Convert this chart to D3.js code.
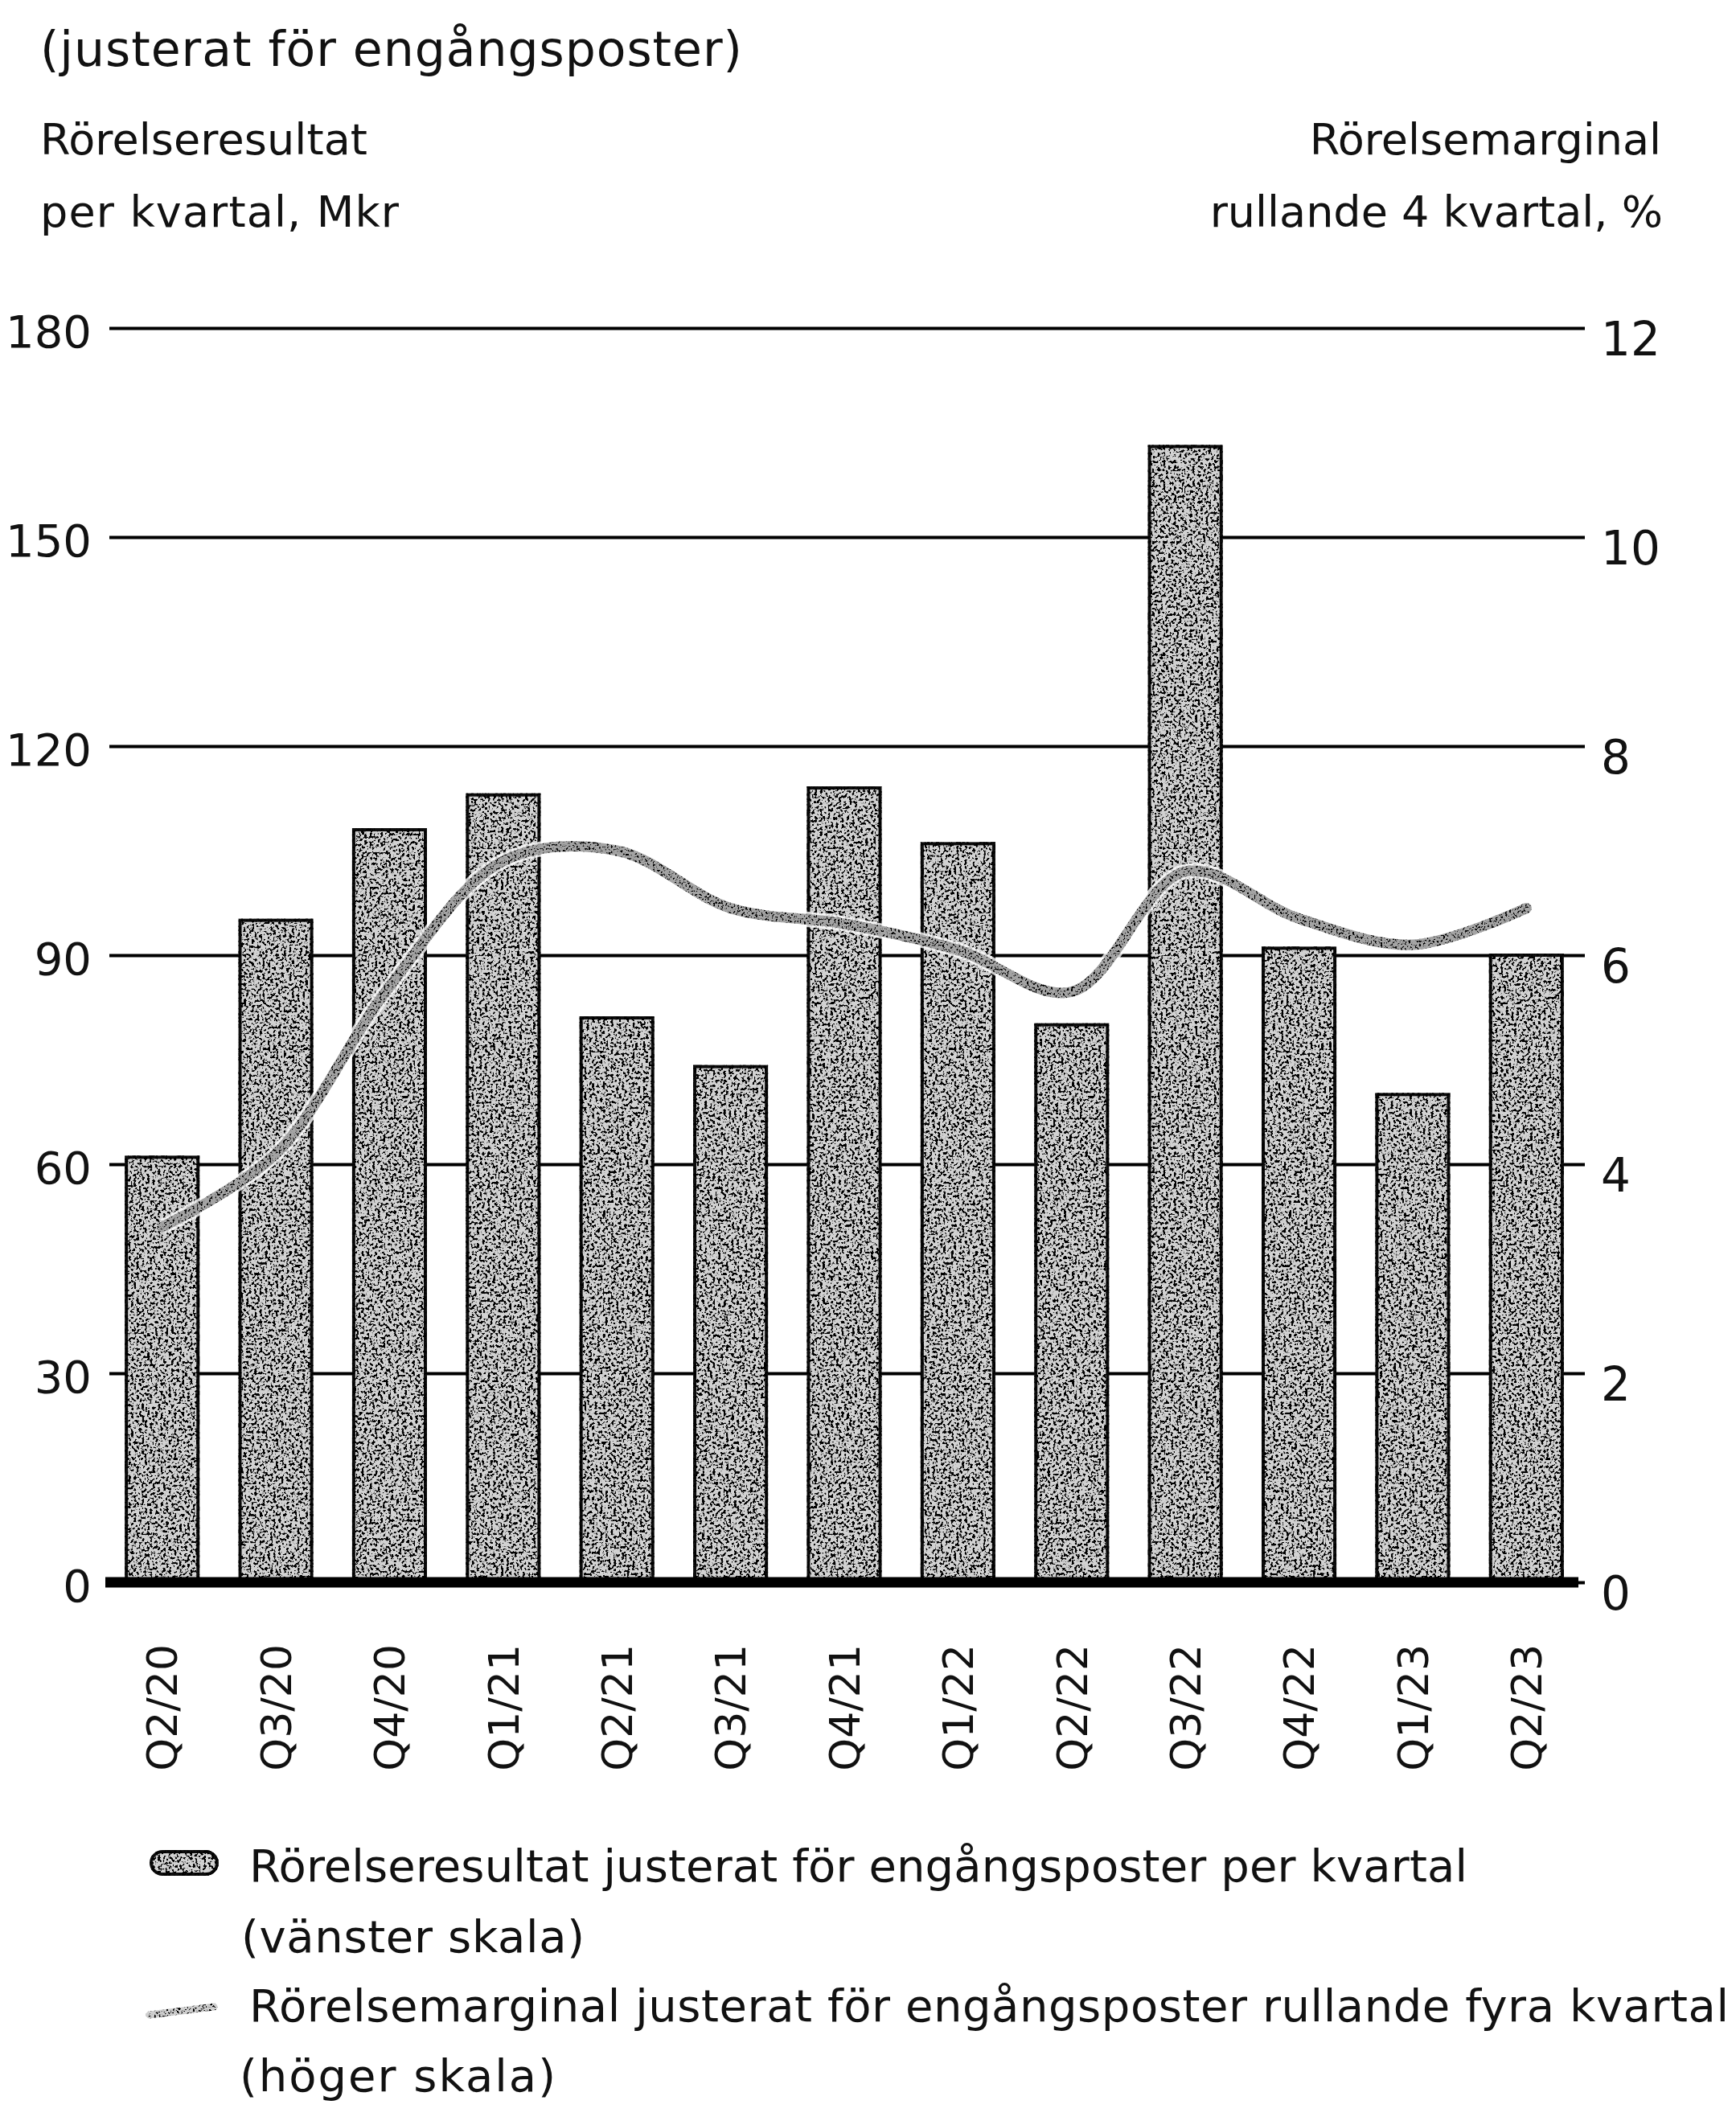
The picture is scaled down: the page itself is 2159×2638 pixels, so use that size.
<!DOCTYPE html>
<html>
<head>
<meta charset="utf-8">
<script src="https://cdn.jsdelivr.net/npm/d3@7"></script>
<style>
  body { margin: 0; background: #fff; }
  text { font-family: "DejaVu Sans", sans-serif; fill: #111; }
</style>
</head>
<body>
<div id="chart"></div>
<script>
// data
const quarters = ["Q2/20", "Q3/20", "Q4/20", "Q1/21", "Q2/21", "Q3/21", "Q4/21",
                  "Q1/22", "Q2/22", "Q3/22", "Q4/22", "Q1/23", "Q2/23"];
const resultat = [61, 95, 108, 113, 81, 74, 114, 106, 80, 163, 91, 70, 90];      // Mkr, vänster skala
const marginal = [3.4, 4.1, 5.7, 6.9, 7.0, 6.45, 6.3, 6.05, 5.65, 6.8, 6.35, 6.1, 6.45]; // %, höger skala
const leftTicks = [0, 30, 60, 90, 120, 150, 180];
const rightTicks = [0, 2, 4, 6, 8, 10, 12];

const W = 2159, H = 2638;
const plot = { left: 136, right: 1971, top: 408, bottom: 1968 };

const svg = d3.select("#chart").append("svg")
  .attr("width", W).attr("height", H);

// speckled print texture
const defs = svg.append("defs");
function stipple(id, freq, k, b, seed) {
  const f = defs.append("filter").attr("id", id)
    .attr("filterUnits", "userSpaceOnUse")
    .attr("x", 0).attr("y", 0).attr("width", W).attr("height", H);
  f.append("feTurbulence").attr("type", "fractalNoise")
    .attr("baseFrequency", freq).attr("numOctaves", 2).attr("seed", seed).attr("result", "noise");
  f.append("feColorMatrix").attr("in", "noise").attr("type", "matrix")
    .attr("values", `0 0 0 0 0  0 0 0 0 0  0 0 0 0 0  ${k} 0 0 0 ${b}`).attr("result", "dots");
  f.append("feComposite").attr("in", "dots").attr("in2", "SourceAlpha")
    .attr("operator", "in").attr("result", "clipped");
  const m = f.append("feMerge");
  m.append("feMergeNode").attr("in", "SourceGraphic");
  m.append("feMergeNode").attr("in", "clipped");
}
stipple("stipple", 0.3, 14, -7.2, 4);
stipple("stippleLight", 0.4, 10, -5.4, 9);

const x = d3.scaleBand().domain(quarters)
  .range([131, 1969]).paddingInner(0.37).paddingOuter(0.185);
const yL = d3.scaleLinear().domain([0, 180]).range([plot.bottom, plot.top]);
const yR = d3.scaleLinear().domain([0, 12]).range([plot.bottom, plot.top]);

// headers
svg.append("text").attr("x", 50).attr("y", 82)
  .attr("font-size", 60).attr("textLength", 873)
  .text("(justerat för engångsposter)");
svg.append("text").attr("x", 50).attr("y", 192)
  .attr("font-size", 54).attr("textLength", 407)
  .text("Rörelseresultat");
svg.append("text").attr("x", 50).attr("y", 282)
  .attr("font-size", 54).attr("textLength", 446)
  .text("per kvartal, Mkr");
svg.append("text").attr("x", 2066).attr("y", 192)
  .attr("font-size", 54).attr("text-anchor", "end")
  .text("Rörelsemarginal");
svg.append("text").attr("x", 2068).attr("y", 282)
  .attr("font-size", 54).attr("text-anchor", "end")
  .text("rullande 4 kvartal, %");

// left axis with gridlines
const gL = svg.append("g").attr("transform", `translate(${plot.left},0)`)
  .call(d3.axisLeft(yL).tickValues(leftTicks)
    .tickSize(-(plot.right - plot.left)).tickPadding(22));
gL.select(".domain").remove();
gL.selectAll(".tick line").attr("stroke", "#000").attr("stroke-width", 4);
gL.selectAll(".tick text").attr("font-size", 56).attr("fill", "#111")
  .attr("font-family", "DejaVu Sans").attr("dy", "0.42em");

// right axis
const gR = svg.append("g").attr("transform", `translate(${plot.right},0)`)
  .call(d3.axisRight(yR).tickValues(rightTicks).tickSize(0).tickPadding(20));
gR.select(".domain").remove();
gR.selectAll(".tick text").attr("font-size", 58).attr("fill", "#111")
  .attr("font-family", "DejaVu Sans").attr("dy", "0.58em");

// bars
svg.append("g").selectAll("rect")
  .data(quarters)
  .join("rect")
  .attr("x", d => x(d))
  .attr("y", (d, i) => yL(resultat[i]))
  .attr("width", x.bandwidth())
  .attr("height", (d, i) => yL(0) - yL(resultat[i]))
  .attr("fill", "#d2d2d2")
  .attr("stroke", "#111")
  .attr("stroke-width", 4)
  .attr("filter", "url(#stipple)");

// margin line
const line = d3.line()
  .x((d, i) => x(quarters[i]) + x.bandwidth() / 2)
  .y(d => yR(d))
  .curve(d3.curveCatmullRom.alpha(0.5));

svg.append("path").attr("d", line(marginal))
  .attr("fill", "none").attr("stroke", "#fff").attr("stroke-opacity", 0.8)
  .attr("stroke-width", 19).attr("stroke-linejoin", "round");
svg.append("path").attr("d", line(marginal))
  .attr("fill", "none").attr("stroke", "#a4a4a4")
  .attr("stroke-width", 13).attr("stroke-linejoin", "round").attr("stroke-linecap", "round")
  .attr("filter", "url(#stippleLight)");

// zero line
svg.append("line")
  .attr("x1", 131).attr("x2", 1963)
  .attr("y1", yL(0)).attr("y2", yL(0))
  .attr("stroke", "#000").attr("stroke-width", 13);

// x axis, rotated labels
const gX = svg.append("g").attr("transform", `translate(0,${plot.bottom})`)
  .call(d3.axisBottom(x).tickSize(0));
gX.select(".domain").remove();
gX.selectAll(".tick text")
  .attr("font-size", 52).attr("fill", "#111").attr("font-family", "DejaVu Sans")
  .attr("transform", "rotate(-90)")
  .attr("x", -77).attr("y", 0).attr("dy", "0.36em")
  .attr("text-anchor", "end");

// legend
const legendRows = [
  { y: 2340, text: "Rörelseresultat justerat för engångsposter per kvartal", len: 1515 },
  { y: 2428, text: "(vänster skala)", len: 427, x: 300 },
  { y: 2514, text: "Rörelsemarginal justerat för engångsposter rullande fyra kvartal", len: 1840 },
  { y: 2601, text: "(höger skala)", len: 393, x: 298 }
];
svg.append("g").selectAll("text")
  .data(legendRows)
  .join("text")
  .attr("x", d => d.x || 310)
  .attr("y", d => d.y)
  .attr("font-size", 56)
  .attr("textLength", d => d.len)
  .text(d => d.text);

svg.append("rect")
  .attr("x", 188).attr("y", 2303).attr("width", 82).attr("height", 28).attr("rx", 14)
  .attr("fill", "#d2d2d2").attr("stroke", "#111").attr("stroke-width", 4)
  .attr("filter", "url(#stipple)");
svg.append("line")
  .attr("x1", 186).attr("y1", 2506).attr("x2", 266).attr("y2", 2496)
  .attr("stroke", "#cfcfcf").attr("stroke-width", 9).attr("stroke-linecap", "round")
  .attr("filter", "url(#stippleLight)");
</script>
</body>
</html>
